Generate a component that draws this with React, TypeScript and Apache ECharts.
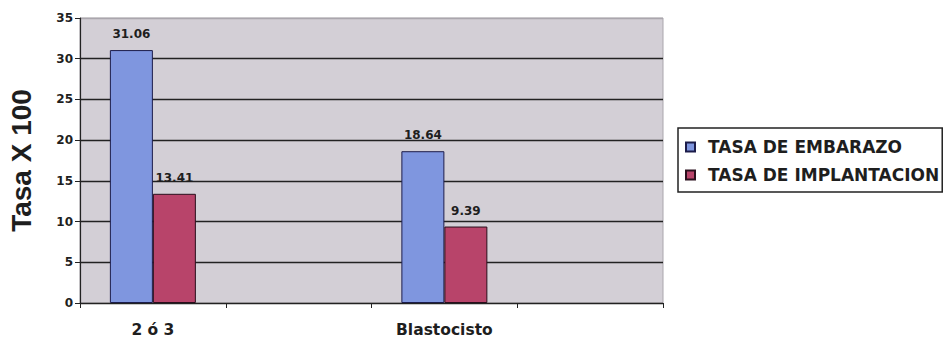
import React, { useEffect, useRef } from "react";
import * as echarts from "echarts";

const categories = ["2 ó 3", "", "Blastocisto", ""];
const embarazo = [31.06, null, 18.64, null];
const implantacion = [13.41, null, 9.39, null];
const seriesNames = ["TASA DE EMBARAZO", "TASA DE IMPLANTACION"];
const yAxisName = "Tasa X 100";

const WIDE = "'DejaVu Sans', sans-serif";

export default function App() {
  const ref = useRef<HTMLDivElement>(null);
  useEffect(() => {
    if (!ref.current) return;
    const chart = echarts.init(ref.current, undefined, { renderer: "svg" });
    const labelCfg = {
      show: true,
      position: "top",
      distance: 10,
      fontFamily: WIDE,
      fontWeight: "bold",
      fontSize: 12,
      color: "#1e1e1e",
      formatter: (p: any) => (p.value == null ? "" : Number(p.value).toFixed(2)),
    };
    chart.setOption({
      animation: false,
      backgroundColor: "#ffffff",
      grid: {
        left: 80,
        top: 18,
        right: 281,
        bottom: 39,
        containLabel: false,
        outerBoundsMode: "none",
        show: true,
        backgroundColor: "#d3cfd6",
        borderColor: "#aaa6ad",
        borderWidth: 1,
      },
      legend: {
        orient: "vertical",
        left: 678,
        top: 128,
        padding: [9, 3, 7, 7],
        itemGap: 8,
        itemWidth: 9,
        itemHeight: 9,
        borderColor: "#222",
        borderWidth: 1.5,
        backgroundColor: "#ffffff",
        icon: "rect",
        selectedMode: false,
        textStyle: {
          fontFamily: WIDE,
          fontWeight: "bold",
          fontSize: 17,
          color: "#1e1e1e",
          padding: [0, 0, 0, 8],
          lineHeight: 20,
        },
        data: seriesNames,
      },
      xAxis: {
        type: "category",
        data: categories,
        boundaryGap: true,
        axisLine: { show: true, lineStyle: { color: "#222", width: 1.2 } },
        axisTick: { show: true, length: 5, alignWithLabel: false, lineStyle: { color: "#222" } },
        axisLabel: {
          margin: 19,
          fontFamily: WIDE,
          fontWeight: "bold",
          fontSize: 15.5,
          color: "#1e1e1e",
        },
        splitLine: { show: false },
      },
      yAxis: {
        type: "value",
        min: 0,
        max: 35,
        interval: 5,
        name: yAxisName,
        nameLocation: "middle",
        nameGap: 39,
        nameTextStyle: {
          fontFamily: "'Liberation Sans', Arial, sans-serif",
          fontWeight: "bold",
          fontSize: 28,
          color: "#1e1e1e",
          padding: [0, 0, 6, 0],
        },
        axisLine: { show: true, lineStyle: { color: "#222", width: 1.2 } },
        axisTick: { show: true, length: 5, lineStyle: { color: "#222" } },
        axisLabel: {
          margin: 7,
          fontFamily: WIDE,
          fontWeight: "bold",
          fontSize: 12,
          color: "#1e1e1e",
        },
        splitLine: {
          show: true,
          lineStyle: {
            color: ["#222", "#222", "#222", "#222", "#222", "#222", "#222", "#aaa6ad"],
            width: 1.3,
          },
        },
      },
      series: [
        {
          name: seriesNames[0],
          type: "bar",
          data: embarazo,
          barGap: "0%",
          barCategoryGap: "41%",
          itemStyle: { color: "#7f96df", borderColor: "#1c1c4a", borderWidth: 1 },
          label: labelCfg,
        },
        {
          name: seriesNames[1],
          type: "bar",
          data: implantacion,
          itemStyle: { color: "#b8446a", borderColor: "#2a0f1c", borderWidth: 1 },
          label: labelCfg,
        },
      ],
    });
    return () => chart.dispose();
  }, []);
  return (
    <div
      ref={ref}
      style={{ position: "fixed", left: 0, top: 0, width: 944, height: 342 }}
    />
  );
}
